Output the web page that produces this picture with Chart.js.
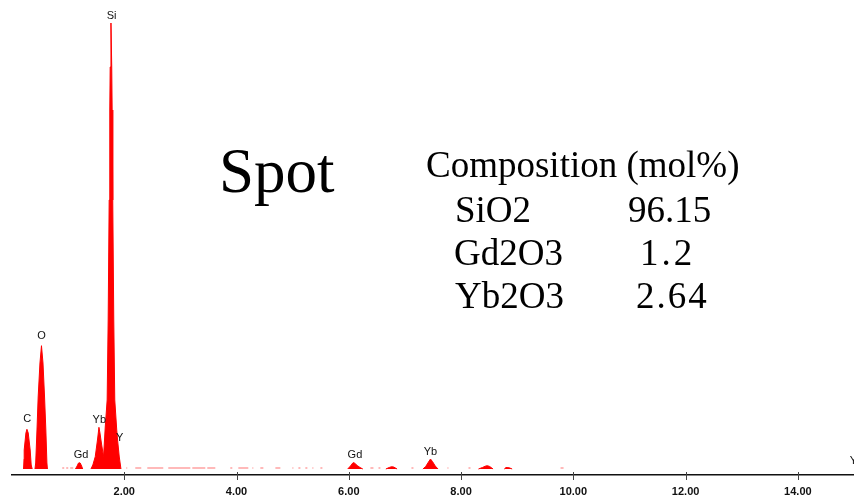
<!DOCTYPE html>
<html>
<head>
<meta charset="utf-8">
<script src="https://cdn.jsdelivr.net/npm/chart.js@4.4.1/dist/chart.umd.min.js"></script>
<style>
    body { margin: 0; background: #fff; }
    #wrap { position: relative; width: 854px; height: 497px; overflow: hidden; }
    .note { position: absolute; font-family: "Liberation Serif", "Times New Roman", serif; line-height: 1; color: #000; white-space: nowrap; }
</style>
</head>
<body>
<div id="wrap">
    <canvas id="myChart" width="854" height="497"></canvas>
    <div class="note" style="left:219px;top:140px;font-size:63px">Spot</div>
    <div class="note" style="left:426px;top:146px;font-size:37px">Composition (mol%)</div>
    <div class="note" style="left:455px;top:191px;font-size:37px">SiO2</div>
    <div class="note" style="left:628px;top:191px;font-size:37px">96.15</div>
    <div class="note" style="left:454px;top:234px;font-size:37px">Gd2O3</div>
    <div class="note" style="left:640px;top:234px;font-size:37px;letter-spacing:3px">1.2</div>
    <div class="note" style="left:636px;top:277px;font-size:37px;letter-spacing:2px">2.64</div>
    <div class="note" style="left:455px;top:277px;font-size:37px">Yb2O3</div>
</div>
<script>
// spectrum (energy in keV, counts), null = gap between peaks
const specEnergy = [
    0.205, 0.214, 0.217, 0.248, 0.266, 0.289, 0.324, 0.342, 0.360, 0.38,
    0.409, 0.422, 0.445, 0.466, 0.498, 0.525, 0.552, 0.580, 0.603, 0.622, 0.632, 0.9,
    1.13, 1.16, 1.185, 1.20, 1.215, 1.24, 1.26, 1.3,
    1.406, 1.44, 1.483, 1.525, 1.549, 1.567, 1.595, 1.631, 1.661, 1.695, 1.713, 1.731,
    1.742, 1.749, 1.763, 1.777, 1.784, 1.795, 1.813, 1.831, 1.866, 1.881, 1.911, 1.941, 3.0,
    5.98, 6.03, 6.075, 6.10, 6.15, 6.20, 6.25, 6.4,
    6.66, 6.72, 6.76, 6.80, 6.86, 7.0,
    7.32, 7.37, 7.42, 7.455, 7.49, 7.54, 7.59, 8.0,
    8.31, 8.38, 8.44, 8.47, 8.51, 8.57, 8.7,
    8.77, 8.80, 8.86, 8.91
];
const specCounts = [
    0, 100, 190, 360, 397, 360, 190, 40, 0, null,
    0, 60, 390, 720, 1060, 1233, 1060, 720, 390, 60, 0, null,
    0, 30, 60, 63, 60, 30, 0, null,
    0, 40, 123, 300, 417, 360, 250, 123, 420, 690, 1490, 2690,
    3590, 4020, 4460, 4020, 3590, 2690, 1490, 690, 390, 290, 120, 0, null,
    0, 30, 63, 60, 35, 15, 0, null,
    0, 15, 23, 20, 0, null,
    0, 25, 70, 100, 75, 30, 0, null,
    0, 15, 30, 33, 25, 0, null,
    0, 15, 12, 0
];

// little background dashes along the baseline
const noiseFrom = [0.895, 0.966, 1.037, 2.036, 2.196, 2.410, 2.784, 3.212, 3.479, 3.889, 4.032, 4.282,
    4.424, 4.692, 4.995, 5.102, 5.226, 5.351, 5.494, 6.385, 6.529, 7.116, 7.758, 8.132, 9.772];
const noiseTo = [0.930, 1.002, 1.091, 2.053, 2.303, 2.695, 3.177, 3.444, 3.622, 3.925, 4.210, 4.299,
    4.478, 4.781, 5.013, 5.138, 5.262, 5.369, 5.530, 6.439, 6.563, 7.152, 7.775, 8.168, 9.826];
const noiseCounts = [10, 10, 10, 10, 10, 10, 10, 10, 10, 10, 10, 10,
    10, 10, 10, 10, 10, 10, 10, 10, 10, 10, 10, 10, 10];

const tickValues = [2, 4, 6, 8, 10, 12, 14];

const peakLabels = ['C', 'O', 'Gd', 'Yb', 'Si', 'Y', 'Gd', 'Yb', 'Y'];
const peakLabelEnergy = [0.271, 0.526, 1.23, 1.555, 1.774, 1.92, 6.109, 7.455, 14.99];
const peakLabelCount = [500, 1330, 140, 495, 4530, 310, 140, 170, 80];

var specData = specEnergy.map((e, i) => ({ x: e, y: specCounts[i] }));
var noiseData = [];
for (var i = 0; i < noiseFrom.length; i++) {
    noiseData.push({ x: noiseFrom[i], y: noiseCounts[i] });
    noiseData.push({ x: noiseTo[i], y: noiseCounts[i] });
    noiseData.push({ x: noiseTo[i] + 0.001, y: null });
}

// element names over the peaks + tick marks crossing the axis
const spectrumExtras = {
    id: 'spectrumExtras',
    afterDraw(chart) {
        var ctx = chart.ctx;
        var xs = chart.scales.x, ys = chart.scales.y;
        ctx.save();
        ctx.strokeStyle = '#444';
        ctx.lineWidth = 1;
        var axisY = chart.chartArea.bottom;
        tickValues.forEach((v) => {
            var px = Math.round(xs.getPixelForValue(v)) + 0.5;
            ctx.beginPath();
            ctx.moveTo(px, axisY - 3);
            ctx.lineTo(px, axisY + 5);
            ctx.stroke();
        });
        ctx.fillStyle = '#111';
        ctx.font = '11px "Liberation Sans", Arial, sans-serif';
        ctx.textAlign = 'center';
        ctx.textBaseline = 'middle';
        for (var i = 0; i < peakLabels.length; i++) {
            ctx.fillText(peakLabels[i], xs.getPixelForValue(peakLabelEnergy[i]), ys.getPixelForValue(peakLabelCount[i]));
        }
        ctx.restore();
    }
};

var ctx = document.getElementById('myChart').getContext('2d');
var myChart = new Chart(ctx, {
    type: 'line',
    data: {
        datasets: [{
            data: specData,
            borderColor: '#ff0000',
            borderWidth: 1,
            backgroundColor: '#ff0000',
            fill: 'origin',
            pointRadius: 0,
            tension: 0,
            spanGaps: false
        }, {
            data: noiseData,
            borderColor: 'rgba(255, 0, 0, 0.55)',
            borderWidth: 1,
            fill: false,
            pointRadius: 0,
            tension: 0,
            spanGaps: false
        }]
    },
    options: {
        responsive: false,
        animation: false,
        layout: { padding: { left: 12, right: 0, top: 0, bottom: 0 } },
        plugins: { legend: { display: false }, tooltip: { enabled: false } },
        scales: {
            x: {
                type: 'linear',
                min: 0,
                max: 15,
                afterBuildTicks: (scale) => { scale.ticks = tickValues.map((v) => ({ value: v })); },
                afterFit: (scale) => { scale.height = 22; },
                grid: { drawOnChartArea: false, drawTicks: false },
                border: { display: true, color: '#111', width: 1.5 },
                ticks: {
                    padding: 10,
                    autoSkip: false,
                    maxRotation: 0,
                    color: '#111',
                    font: { family: '"Liberation Sans", Arial, sans-serif', size: 11, weight: 'bold' },
                    callback: (v) => Number(v).toFixed(2)
                }
            },
            y: {
                display: false,
                min: -60,
                max: 4690
            }
        }
    },
    plugins: [spectrumExtras]
});
</script>
</body>
</html>
